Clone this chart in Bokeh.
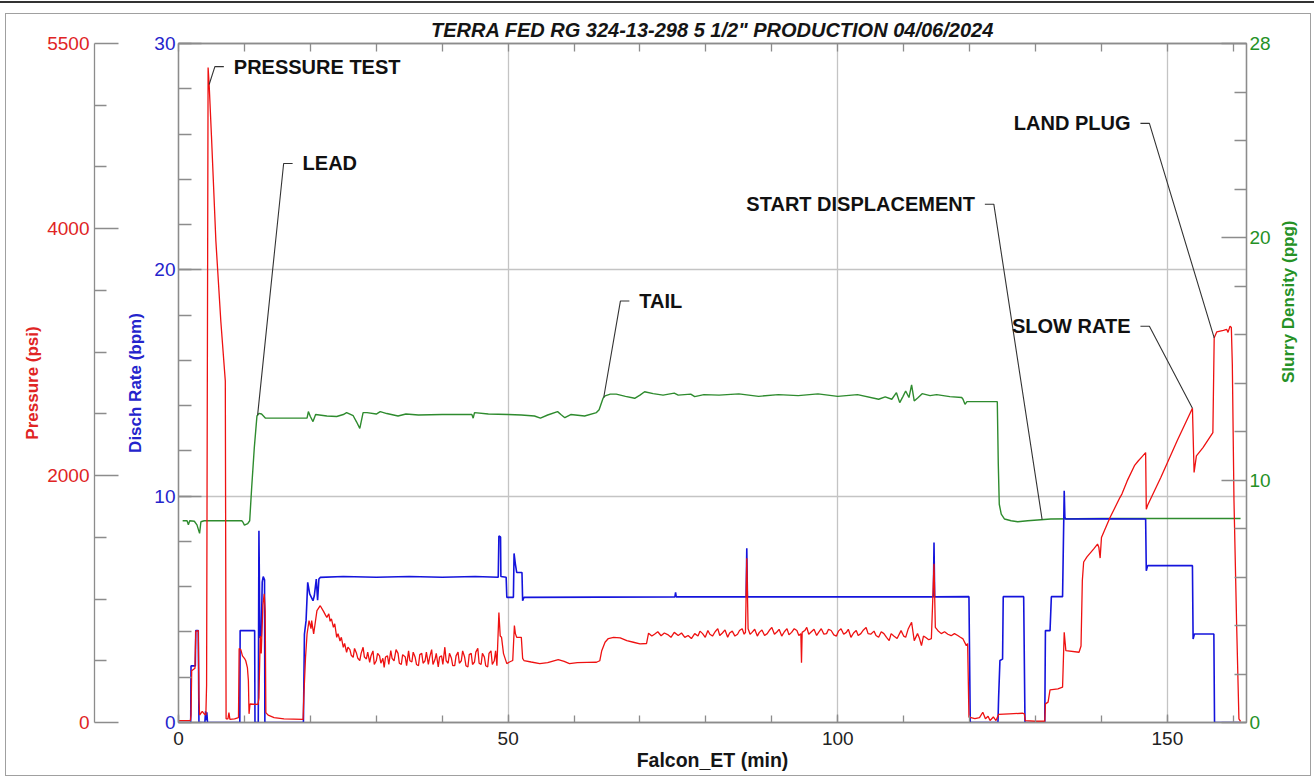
import math
import numpy as np
from bokeh.plotting import figure
from bokeh.models import Range1d, LinearAxis, FixedTicker, SingleIntervalTicker
from bokeh.embed import file_html
from bokeh.resources import INLINE
from bokeh.core.properties import value

# ---------------- data ----------------
TITLE = 'TERRA FED RG 324-13-298 5 1/2" PRODUCTION 04/06/2024'
X_LABEL = "Falcon_ET (min)"
PSI_LABEL = "Pressure (psi)"
BPM_LABEL = "Disch Rate (bpm)"
PPG_LABEL = "Slurry Density (ppg)"

X_MAX = 162
PSI_MAX = 5500
BPM_MAX = 30
PPG_MAX = 28
PSI_TICKS = [0, 2000, 4000, 5500]
PSI_MINOR = [500, 1000, 1500, 2500, 3000, 3500, 4500, 5000]
PPG_TICKS = [0, 10, 20, 28]
PPG_MINOR = [2, 4, 6, 8, 12, 14, 16, 18, 22, 24, 26]

# pressure (min, psi)
PRESSURE = [
    (0.0, 15), (1.8, 15), (1.9, 60), (2.0, 420), (2.5, 440), (2.62, 740), (3.0, 745),
    (3.1, 200), (3.2, 60), (3.6, 90), (3.9, 70), (4.15, 60), (4.26, 300), (4.49, 5306),
    (4.65, 5168), (5.0, 4750), (5.67, 3900), (6.42, 3250), (7.1, 2766), (7.22, 30),
    (7.5, 30), (7.65, 80), (7.8, 25), (8.5, 30), (9.1, 40), (9.2, 600), (9.45, 590),
    (9.7, 540), (10.0, 520), (10.2, 500), (10.45, 445), (10.6, 340), (10.7, 70),
    (10.85, 150), (12.05, 146), (12.2, 200), (12.4, 700), (12.55, 560), (12.8, 950),
    (13.0, 1043), (13.15, 900), (13.25, 80), (13.6, 60), (14.5, 40), (16.0, 30),
    (18.9, 25), (19.0, 200), (19.27, 528), (19.5, 717), (19.8, 825), (20.1, 760),
    (20.2, 825), (20.5, 717), (21.0, 906), (21.5, 946), (22.0, 900), (22.3, 870),
    (22.5, 852), (22.8, 880), (23.0, 820), (23.2, 840), (23.5, 771), (23.7, 800),
    (24.0, 690), (24.2, 720), (24.5, 660), (24.7, 690), (25.0, 609), (25.2, 640),
    (25.5, 569), (25.7, 610), (26.0, 590), (26.2, 545), (26.5, 528), (26.7, 600),
    (27.0, 560), (27.2, 520), (27.5, 502), (27.7, 560), (28.0, 609), (28.2, 530),
    (28.5, 515), (28.7, 570), (29.0, 488), (29.2, 540), (29.5, 580), (29.7, 470),
    (30.0, 500), (30.2, 560), (30.5, 540), (30.7, 480), (31.0, 520), (31.2, 447),
    (31.4, 530), (31.7, 540), (31.9, 470), (32.2, 582), (32.4, 520), (32.7, 500),
    (33.0, 590), (33.3, 560), (33.5, 480), (33.8, 470), (34.0, 550), (34.4, 530),
    (34.6, 460), (34.9, 580), (35.1, 500), (35.4, 490), (35.6, 570), (35.9, 528),
    (36.1, 470), (36.4, 460), (36.6, 550), (36.9, 560), (37.1, 480), (37.4, 500),
    (37.6, 570), (37.9, 470), (38.1, 530), (38.4, 590), (38.6, 470), (38.9, 510),
    (39.1, 560), (39.4, 450), (39.6, 530), (39.9, 540), (40.1, 470), (40.4, 610),
    (40.6, 500), (40.9, 480), (41.1, 560), (41.4, 520), (41.6, 460), (41.9, 460),
    (42.1, 540), (42.4, 570), (42.6, 480), (42.9, 500), (43.1, 580), (43.4, 530),
    (43.6, 460), (43.9, 450), (44.1, 550), (44.4, 560), (44.6, 470), (44.9, 490),
    (45.1, 570), (45.4, 600), (45.6, 480), (45.9, 470), (46.1, 560), (46.4, 530),
    (46.6, 460), (46.9, 450), (47.1, 560), (47.4, 580), (47.6, 470), (47.9, 500),
    (48.1, 580), (48.3, 460), (48.6, 890), (48.8, 700), (49.0, 690),
    (49.3, 558), (49.8, 477), (50.2, 490), (50.7, 502), (50.95, 785), (51.1, 720),
    (51.3, 690), (52.0, 690), (52.2, 520), (52.4, 502), (53.5, 490), (54.8, 477),
    (56.0, 485), (57.6, 510), (58.5, 495), (59.3, 477), (60.5, 485), (62.0, 487),
    (63.4, 488), (63.9, 500), (64.2, 582), (64.7, 650), (65.2, 680), (66.0, 690),
    (67.0, 685), (68.0, 663), (69.0, 650), (70.0, 637), (71.0, 640), (71.3, 723),
    (71.8, 700), (72.2, 715), (72.7, 735), (73.2, 703), (73.7, 725), (74.2, 712),
    (74.7, 690), (75.2, 730), (75.8, 705), (76.3, 725), (76.8, 690), (77.3, 705),
    (77.8, 680), (78.3, 720), (78.8, 700), (79.1, 740), (79.5, 720), (79.9, 690),
    (80.3, 745), (80.6, 715), (81.0, 700), (81.4, 735), (81.8, 760), (82.1, 705),
    (82.5, 725), (82.9, 750), (83.3, 690), (83.6, 725), (84.0, 740), (84.4, 700),
    (84.8, 715), (85.1, 745), (85.5, 760), (85.8, 715), (86.0, 730), (86.2, 1330),
    (86.4, 760), (86.7, 715), (87.0, 730), (87.4, 755), (87.8, 700), (88.1, 730),
    (88.5, 750), (88.9, 705), (89.3, 720), (89.6, 745), (90.0, 770), (90.4, 715),
    (90.8, 735), (91.1, 755), (91.5, 700), (91.9, 735), (92.3, 760), (92.6, 710),
    (93.0, 730), (93.4, 760), (93.8, 745), (94.1, 705), (94.4, 720), (94.5, 485),
    (94.6, 730), (95.0, 745), (95.3, 770), (95.6, 715), (96.0, 735), (96.4, 755),
    (96.8, 705), (97.1, 730), (97.5, 760), (97.9, 715), (98.3, 720), (98.6, 755),
    (99.0, 745), (99.4, 710), (99.8, 700), (100.1, 740), (100.5, 760), (100.9, 715),
    (101.3, 730), (101.6, 755), (102.0, 690), (102.4, 725), (102.8, 745), (103.1, 705),
    (103.5, 720), (103.9, 750), (104.3, 770), (104.6, 720), (105.0, 715), (105.5, 740),
    (105.8, 705), (106.2, 690), (106.6, 735), (107.0, 720), (107.4, 690), (107.8, 663),
    (108.1, 720), (108.5, 700), (109.0, 680), (109.6, 744), (110.0, 700), (110.3, 690),
    (110.7, 760), (111.2, 812), (111.6, 663), (112.1, 720), (112.4, 680), (112.7, 623),
    (113.0, 700), (113.3, 690), (113.8, 670), (114.2, 680), (114.6, 1285), (114.8, 771),
    (115.2, 744), (115.7, 720), (116.2, 735), (116.7, 715), (117.2, 703), (117.7, 720),
    (118.2, 705), (118.6, 690), (119.0, 677), (119.5, 623), (119.7, 640), (119.9, 43),
    (120.8, 32), (121.5, 40), (122.0, 83), (122.4, 30), (122.8, 50), (123.1, 16),
    (123.6, 45), (124.0, 16), (124.4, 65), (126.0, 70), (128.0, 75), (128.3, 70),
    (128.45, 16), (129.9, 10), (131.4, 10), (131.5, 151), (131.9, 165), (132.2, 264),
    (133.4, 272), (134.1, 286), (134.35, 730), (134.6, 582), (136.6, 569), (136.9, 620),
    (137.1, 1150), (137.3, 1300), (137.8, 1342), (138.8, 1405), (139.4, 1445),
    (139.6, 1420), (139.8, 1332), (140.0, 1499), (141.3, 1660), (142.8, 1822),
    (143.1, 1850), (143.9, 1957), (145.0, 2080), (145.6, 2120), (146.1, 2150),
    (146.7, 2186), (146.8, 1728), (147.0, 1760), (149.0, 1984), (151.5, 2285),
    (153.8, 2545), (154.05, 2025), (154.4, 2160), (155.4, 2227), (156.9, 2348),
    (157.1, 3116), (157.5, 3165), (158.5, 3176), (159.0, 3184), (159.2, 3160),
    (159.5, 3211), (159.7, 3200), (159.85, 2900), (160.1, 1800), (160.5, 800),
    (160.85, 30), (161.1, 10),
]

# discharge rate (min, bpm)
RATE = [
    (0, 0), (1.85, 0), (1.9, 2.5), (2.55, 2.5), (2.62, 4.06), (3.0, 4.06), (3.1, 0),
    (4.0, 0), (4.1, 0.5), (4.2, 0.1), (4.3, 0.45), (4.4, 0), (9.3, 0), (9.35, 4.06),
    (11.55, 4.06), (11.6, 0), (12.1, 0), (12.2, 8.47), (12.35, 3.75), (12.55, 3.8),
    (12.7, 6.2), (12.85, 6.45), (13.05, 6.3), (13.1, 0), (18.95, 0), (19.1, 3.9),
    (19.35, 4.5), (19.6, 6.19), (19.9, 5.68), (20.4, 5.38), (20.6, 5.6), (20.9, 6.34),
    (21.1, 5.4), (21.3, 6.34), (21.5, 6.41), (25, 6.45), (30, 6.42), (35, 6.45),
    (40, 6.42), (45, 6.45), (48.5, 6.42), (48.6, 8.24), (48.85, 8.2), (48.9, 6.45),
    (49.7, 6.42), (49.8, 5.53), (50.8, 5.53), (50.9, 7.47), (51.1, 7.0), (51.3, 6.63),
    (52.1, 6.63), (52.2, 5.38), (52.4, 5.53), (75.3, 5.55), (75.4, 5.75), (75.5, 5.55),
    (86.1, 5.55), (86.2, 7.7), (86.3, 5.55), (114.5, 5.55), (114.6, 7.95), (114.7, 5.55),
    (119.9, 5.56), (120.1, 0), (124.3, 0), (124.4, 1.1), (124.6, 2.74), (125.0, 2.8),
    (125.1, 5.56), (128.2, 5.56), (128.4, 0), (131.4, 0), (131.5, 4.06), (132.2, 4.06),
    (132.4, 5.56), (134.1, 5.56), (134.35, 10.24), (134.45, 9.06), (134.6, 8.99),
    (140, 9.0), (146.7, 8.99), (146.8, 6.7), (147.0, 6.93), (153.8, 6.93), (153.9, 3.69),
    (154.1, 3.91), (157.05, 3.91), (157.15, 0), (161.1, 0),
]

# slurry density (min, ppg)
DENSITY = [
    (0.63, 8.32), (1.3, 8.32), (1.5, 8.15), (1.7, 8.32), (2.4, 8.3), (2.8, 8.15),
    (3.2, 7.8), (3.4, 8.28), (3.9, 8.32), (9.6, 8.32), (9.8, 8.25), (10.0, 8.14),
    (10.5, 8.2), (10.8, 8.32), (11.1, 9.69), (11.5, 11.34), (11.9, 12.64), (12.2, 12.75),
    (12.6, 12.72), (13.2, 12.55), (19.5, 12.55), (19.7, 12.82), (20.0, 12.62),
    (20.4, 12.41), (20.8, 12.7), (22.5, 12.64), (24.0, 12.62), (25.0, 12.7),
    (25.5, 12.78), (26.5, 12.65), (27.0, 12.4), (27.5, 12.13), (28.0, 12.78),
    (28.6, 12.78), (30.0, 12.72), (30.6, 12.82), (31.6, 12.74), (33.3, 12.64),
    (34.5, 12.72), (36.4, 12.68), (40, 12.7), (44.5, 12.7), (44.7, 12.55), (44.9, 12.78),
    (47, 12.72), (50, 12.7), (52, 12.68), (54.0, 12.64), (54.9, 12.55), (56.0, 12.68),
    (57.5, 12.82), (58.0, 12.7), (58.6, 12.57), (59.5, 12.7), (61.6, 12.64),
    (63.4, 12.78), (63.8, 12.9), (64.4, 13.37), (64.7, 13.47), (65.5, 13.54),
    (66.4, 13.54), (67.8, 13.45), (69.2, 13.37), (70.0, 13.5), (70.7, 13.64),
    (72.0, 13.56), (73.5, 13.5), (75.2, 13.58), (75.8, 13.5), (77.7, 13.54),
    (78.3, 13.44), (79.7, 13.52), (82, 13.5), (85, 13.55), (88, 13.45), (91, 13.52),
    (94, 13.48), (97, 13.55), (100, 13.45), (103, 13.52), (106.2, 13.33), (107.2, 13.43),
    (108.2, 13.33), (108.9, 13.6), (109.4, 13.19), (109.9, 13.45), (110.3, 13.67),
    (110.8, 13.4), (111.2, 13.92), (111.6, 13.26), (112.2, 13.4), (112.8, 13.56),
    (114, 13.48), (115, 13.52), (116, 13.48), (117, 13.44), (118.8, 13.4), (119.0, 13.33),
    (119.3, 13.12), (119.6, 13.23), (124.2, 13.23), (124.35, 10.65), (124.5, 9.0),
    (124.8, 8.59), (125.3, 8.39), (126.3, 8.32), (127.3, 8.28), (128.8, 8.32),
    (130.3, 8.35), (132.3, 8.39), (140, 8.41), (161.1, 8.41),
]

# annotations: text, anchor time (min), anchor height (bpm scale), side of text, series, target time
ANNOT_TEXT = ["PRESSURE TEST", "LEAD", "TAIL", "START DISPLACEMENT", "SLOW RATE", "LAND PLUG"]
ANNOT_X = [8.39, 18.82, 69.9, 120.8, 144.4, 144.4]
ANNOT_Y = [28.98, 24.7, 18.62, 22.9, 17.51, 26.47]
ANNOT_SIDE = ["left", "left", "left", "right", "right", "right"]
ANNOT_SERIES = ["psi", "ppg", "ppg", "ppg", "psi", "psi"]
ANNOT_TARGET_T = [4.65, 12.0, 64.5, 131.0, 153.8, 157.1]

# ---------------- styling ----------------
FONT = "Liberation Sans"
RED, BLUE, GREEN = "#ee1111", "#1414dc", "#2e8b2e"
RED_T, BLUE_T, GREEN_T = "#e02424", "#2424cc", "#259125"
AX = "#8c8c8c"
GRID = "#c4c4c4"

W, H = 1304, 761
ML, MR, MT, MB = 172, 60, 28, 53
FRAME_W = W - ML - MR

p = figure(width=W, height=H, output_backend="svg", toolbar_location=None,
           x_range=Range1d(0, X_MAX), y_range=Range1d(0, BPM_MAX),
           min_border_left=ML, min_border_right=MR, min_border_top=MT, min_border_bottom=MB,
           title=TITLE, background_fill_color="white", border_fill_color="white")
p.extra_y_ranges = {"psi": Range1d(0, PSI_MAX), "ppg": Range1d(0, PPG_MAX)}
# outer page frame of the original report
p.styles = {
    "position": "relative", "left": "6px", "top": "14px",
    "outline": "1px solid #a0a0a0",
    "box-shadow": "0 -4px 0 7px #ffffff, 0 -7px 0 6px #333333",
}

p.title.align = "center"
p.title.text_font = FONT
p.title.text_font_size = "20px"
p.title.text_font_style = "bold italic"
p.title.text_color = "#151515"
p.title.standoff = 5

p.outline_line_color = AX
p.outline_line_width = 1.3


def style_axis(ax, color_text, tick_in, minor_in, label=None, label_color=None,
               label_standoff=8, tick_standoff=3, font_size="19px"):
    ax.axis_line_color = AX
    ax.axis_line_width = 1.3
    ax.major_tick_line_color = AX
    ax.minor_tick_line_color = AX
    ax.major_tick_line_width = 1.3
    ax.minor_tick_line_width = 1.3
    ax.major_tick_in = tick_in
    ax.major_tick_out = 0
    ax.minor_tick_in = minor_in
    ax.minor_tick_out = 0
    ax.major_label_text_font = FONT
    ax.major_label_text_font_size = font_size
    ax.major_label_text_color = color_text
    ax.major_label_standoff = tick_standoff
    if label is not None:
        ax.axis_label = label
        ax.axis_label_text_font = FONT
        ax.axis_label_text_font_style = "bold"
        ax.axis_label_text_font_size = "17px"
        ax.axis_label_text_color = label_color
        ax.axis_label_standoff = label_standoff


# bottom x axis
xt = SingleIntervalTicker(interval=50, num_minor_ticks=5)
xa = p.xaxis[0]
xa.ticker = xt
style_axis(xa, "#222222", 8, 7, X_LABEL, "#151515", label_standoff=1, tick_standoff=9)
xa.axis_label_text_font_size = "19.5px"
p.xgrid.ticker = xt

# top x axis (ticks only)
ta = LinearAxis(ticker=SingleIntervalTicker(interval=10, num_minor_ticks=0))
style_axis(ta, None, 8, 0, tick_standoff=0, font_size="0px")
ta.minor_tick_line_color = None
p.add_layout(ta, "above")

# left rate axis (innermost)
yt = SingleIntervalTicker(interval=10, num_minor_ticks=5)
ya = p.yaxis[0]
ya.ticker = yt
style_axis(ya, BLUE_T, 23, 13, BPM_LABEL, BLUE_T, label_standoff=6)
p.ygrid.ticker = yt
p.xgrid.grid_line_color = GRID
p.ygrid.grid_line_color = GRID
p.xgrid.grid_line_width = 1.3
p.ygrid.grid_line_width = 1.3

# invisible spacer between the rate axis and the pressure axis
sp = LinearAxis(ticker=FixedTicker(ticks=[BPM_MAX / 2]), axis_line_color=None,
                major_tick_line_color=None, minor_tick_line_color=None,
                major_tick_in=0, major_tick_out=29, minor_tick_in=0, minor_tick_out=0,
                major_label_text_font_size="1px", major_label_text_alpha=0,
                major_label_standoff=0)
p.add_layout(sp, "left")

# pressure axis
pa = LinearAxis(y_range_name="psi", ticker=FixedTicker(ticks=PSI_TICKS, minor_ticks=PSI_MINOR))
style_axis(pa, RED_T, 24, 12, PSI_LABEL, RED_T, label_standoff=2, tick_standoff=5)
p.add_layout(pa, "left")

# density axis
da = LinearAxis(y_range_name="ppg", ticker=FixedTicker(ticks=PPG_TICKS, minor_ticks=PPG_MINOR))
style_axis(da, GREEN_T, 25, 12, PPG_LABEL, GREEN_T, label_standoff=15, tick_standoff=3)
if "axis_label_orientation" in LinearAxis.properties():
    da.axis_label_orientation = math.pi / 2
p.add_layout(da, "right")

# series
pt, pv = zip(*PRESSURE)
rt, rv = zip(*RATE)
dt, dv = zip(*DENSITY)
p.line(list(dt), list(dv), y_range_name="ppg", line_color=GREEN, line_width=1.4)
p.line(list(rt), list(rv), line_color=BLUE, line_width=1.6)
p.line(list(pt), list(pv), y_range_name="psi", line_color=RED, line_width=1.3)

# annotations with leader lines
px_per_min = FRAME_W / X_MAX
series = {"psi": (pt, pv, PSI_MAX), "ppg": (dt, dv, PPG_MAX)}
xs, ys = [], []
for x0, y0, side, s, tt in zip(ANNOT_X, ANNOT_Y, ANNOT_SIDE, ANNOT_SERIES, ANNOT_TARGET_T):
    st, sv, smax = series[s]
    target = float(np.interp(tt, st, sv)) * BPM_MAX / smax
    sgn = -1 if side == "left" else 1
    x1 = x0 + sgn * 10 / px_per_min
    x2 = x0 + sgn * 19 / px_per_min
    xs.append([x1, x2, tt])
    ys.append([y0, y0, target])
p.multi_line(xs, ys, line_color="#333333", line_width=1.1)

for side in ("left", "right"):
    idx = [i for i, s in enumerate(ANNOT_SIDE) if s == side]
    p.text(x=[ANNOT_X[i] for i in idx], y=[ANNOT_Y[i] for i in idx],
           text=[ANNOT_TEXT[i] for i in idx], text_align=side, text_baseline="middle",
           text_font=value(FONT), text_font_size="20px", text_font_style="bold",
           text_color="#111111")

open("out.html", "w").write(file_html(p, INLINE))
